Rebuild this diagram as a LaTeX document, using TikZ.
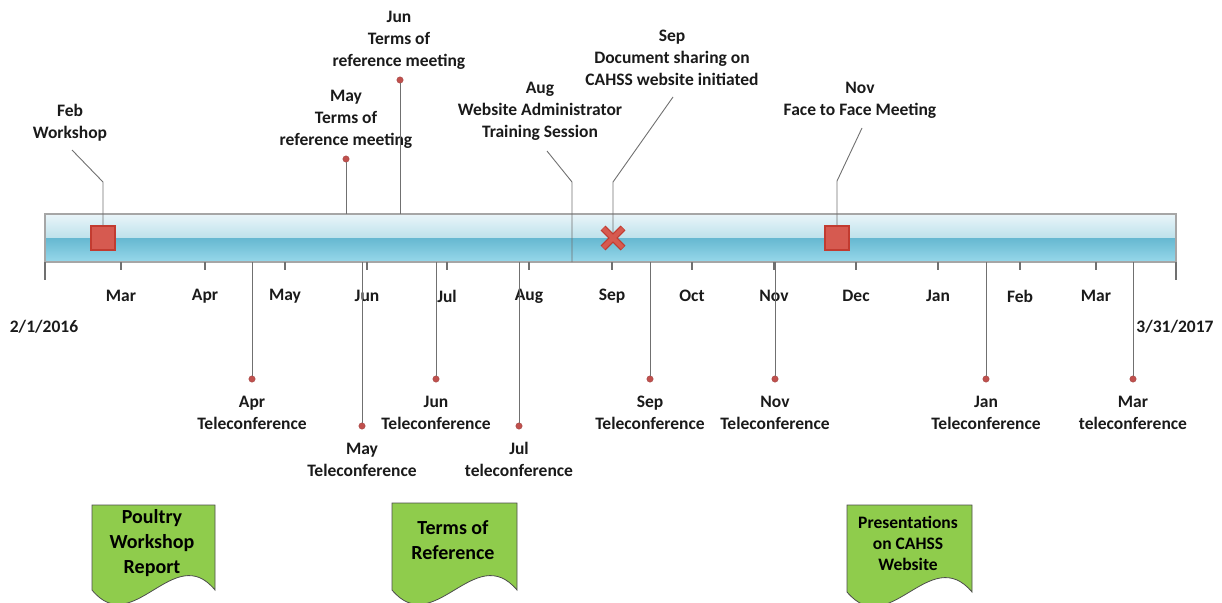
\documentclass[tikz,border=0pt]{standalone}
\usepackage{fontspec}
\setmainfont{Carlito}
\definecolor{barhi}{HTML}{EAF5F9}
\definecolor{barmid}{HTML}{BDE1EB}
\definecolor{barlo}{HTML}{66B8D1}
\definecolor{barbot}{HTML}{97D8EA}
\definecolor{barline}{HTML}{A6A6A6}
\definecolor{leadgray}{HTML}{707070}
\definecolor{mkfill}{HTML}{D65A50}
\definecolor{mkedge}{HTML}{C23B30}
\definecolor{dotred}{HTML}{C0504D}
\definecolor{docgreen}{HTML}{8FCC4C}
\definecolor{docedge}{HTML}{4D4D4D}
\definecolor{txt}{HTML}{1A1A1A}
\begin{document}
\begin{tikzpicture}[x=1pt,y=-1pt,
  lbl/.style={align=center,inner sep=0pt,text=txt,font=\fontsize{17.5}{22}\selectfont\bfseries},
  mon/.style={inner sep=0pt,text=txt,font=\fontsize{17.5}{22}\selectfont\bfseries},
  doclbl/.style={align=center,inner sep=0pt,text=black,font=\fontsize{20}{25}\selectfont\bfseries},
  docsmall/.style={align=center,inner sep=0pt,text=black,font=\fontsize{17.5}{21}\selectfont\bfseries},
  lead/.style={draw=leadgray,line width=0.9pt},
  tick/.style={draw=leadgray,line width=1.4pt},
  sqmark/.style={rectangle,minimum size=24pt,inner sep=0pt,fill=mkfill,draw=mkedge,line width=1.4pt},
  dotmark/.style={circle,minimum size=6.5pt,inner sep=0pt,fill=dotred,draw=dotred!80!black,line width=0.3pt},
  docbox/.style={fill=docgreen,draw=docedge,line width=0.8pt}]
\useasboundingbox (0,0) rectangle (1222,602);
\clip (0,0) rectangle (1222,602);

% timeline bar: light upper half, deeper lower half
\shade[top color=barhi,bottom color=barmid] (45,214) rectangle (1176,238);
\shade[top color=barlo,bottom color=barbot] (45,238) rectangle (1176,262);
\draw[barline,line width=1.2pt] (45,214) rectangle (1176,262);

% end ticks and dates
\coordinate (lend) at (45,262);
\coordinate (lendb) at (45,280);
\coordinate (rend) at (1176,262);
\coordinate (rendb) at (1176,280);
\draw[tick] (lend) -- (lendb);
\draw[tick] (rend) -- (rendb);
\node[mon] (start) at (44,327) {2/1/2016};
\node[mon] (finish) at (1175,327) {3/31/2017};

% month ticks and labels
\foreach \x/\m [count=\i] in {121/Mar,205/Apr,285/May,367/Jun,447/Jul,529/Aug,612/Sep,692/Oct,774/Nov,856/Dec,938/Jan,1020/Feb,1096/Mar}{
  \coordinate (t\i) at (\x,262);
  \coordinate (tb\i) at (\x,270);
  \draw[tick] (t\i) -- (tb\i);
  \node[mon] (m\i) at (\x,296) {\m};
}

% --- events above the bar ---
% Feb workshop
\node[sqmark] (feb) at (103,238) {};
\coordinate (febk) at (103,182);
\coordinate (febe) at (72,150);
\draw[lead] (feb.north) -- (febk) -- (febe);
\node[lbl] (febl) at (70,122.5) {Feb\\Workshop};

% May terms of reference meeting
\coordinate (mayb) at (346,214);
\node[dotmark] (mayd) at (346,159) {};
\draw[lead] (mayb) -- (mayd);
\node[lbl] (mayl) at (346,119) {May\\Terms of\\reference meeting};

% Jun terms of reference meeting
\coordinate (junb) at (400,214);
\node[dotmark] (jund) at (400,80) {};
\draw[lead] (junb) -- (jund);
\node[lbl] (junl) at (399,40.5) {Jun\\Terms of\\reference meeting};

% Aug website administrator training
\coordinate (augb) at (572,262);
\coordinate (augk) at (572,182);
\coordinate (auge) at (547,151);
\draw[lead] (augb) -- (augk) -- (auge);
\node[lbl] (augl) at (540,111.5) {Aug\\Website Administrator\\Training Session};

% Sep document sharing
\coordinate (sepk) at (613,182);
\coordinate (sepe) at (673,97);
\coordinate (sepm) at (613,238);
\draw[lead] (sepm) -- (sepk) -- (sepe);
\draw[mkedge,line width=7pt] ([shift={(-10,-10)}]sepm) -- ([shift={(10,10)}]sepm);
\draw[mkedge,line width=7pt] ([shift={(-10,10)}]sepm) -- ([shift={(10,-10)}]sepm);
\draw[mkfill,line width=4.4pt] ([shift={(-9.6,-9.6)}]sepm) -- ([shift={(9.6,9.6)}]sepm);
\draw[mkfill,line width=4.4pt] ([shift={(-9.6,9.6)}]sepm) -- ([shift={(9.6,-9.6)}]sepm);
\node[lbl] (sepl) at (672,58) {Sep\\Document sharing on\\CAHSS website initiated};

% Nov face to face meeting
\node[sqmark] (nov) at (837,238) {};
\coordinate (novk) at (837,181);
\coordinate (nove) at (862,128);
\draw[lead] (nov.north) -- (novk) -- (nove);
\node[lbl] (novl) at (860,100.5) {Nov\\Face to Face Meeting};

% --- teleconferences below the bar ---
\foreach \x/\y/\m/\w [count=\i] in {
  252/379/Apr/Teleconference,
  362/426/May/Teleconference,
  436/379/Jun/Teleconference,
  519/426/Jul/teleconference,
  650/379/Sep/Teleconference,
  775/379/Nov/Teleconference,
  986/379/Jan/Teleconference,
  1133/379/Mar/teleconference}{
  \coordinate (tcb\i) at (\x,262);
  \node[dotmark] (tcd\i) at (\x,\y) {};
  \draw[lead] (tcb\i) -- (tcd\i);
  \node[lbl] (tcl\i) at (\x,\y+33.5) {\m\\\w};
}

% --- deliverable documents ---
\path[docbox] (92,505) -- (215,505) -- (215,590)
  .. controls (174,540) and (133,640) .. (92,590) -- cycle;
\node[doclbl] (doc1) at (152,543) {Poultry\\Workshop\\Report};

\path[docbox] (392,503) -- (517,503) -- (517,590)
  .. controls (475,540) and (434,640) .. (392,590) -- cycle;
\node[doclbl] (doc2) at (453,540.5) {Terms of\\Reference};

\path[docbox] (847,505) -- (972,505) -- (972,592)
  .. controls (930,542) and (889,642) .. (847,592) -- cycle;
\node[docsmall] (doc3) at (908,543) {Presentations\\on CAHSS\\Website};
\end{tikzpicture}
\end{document}
